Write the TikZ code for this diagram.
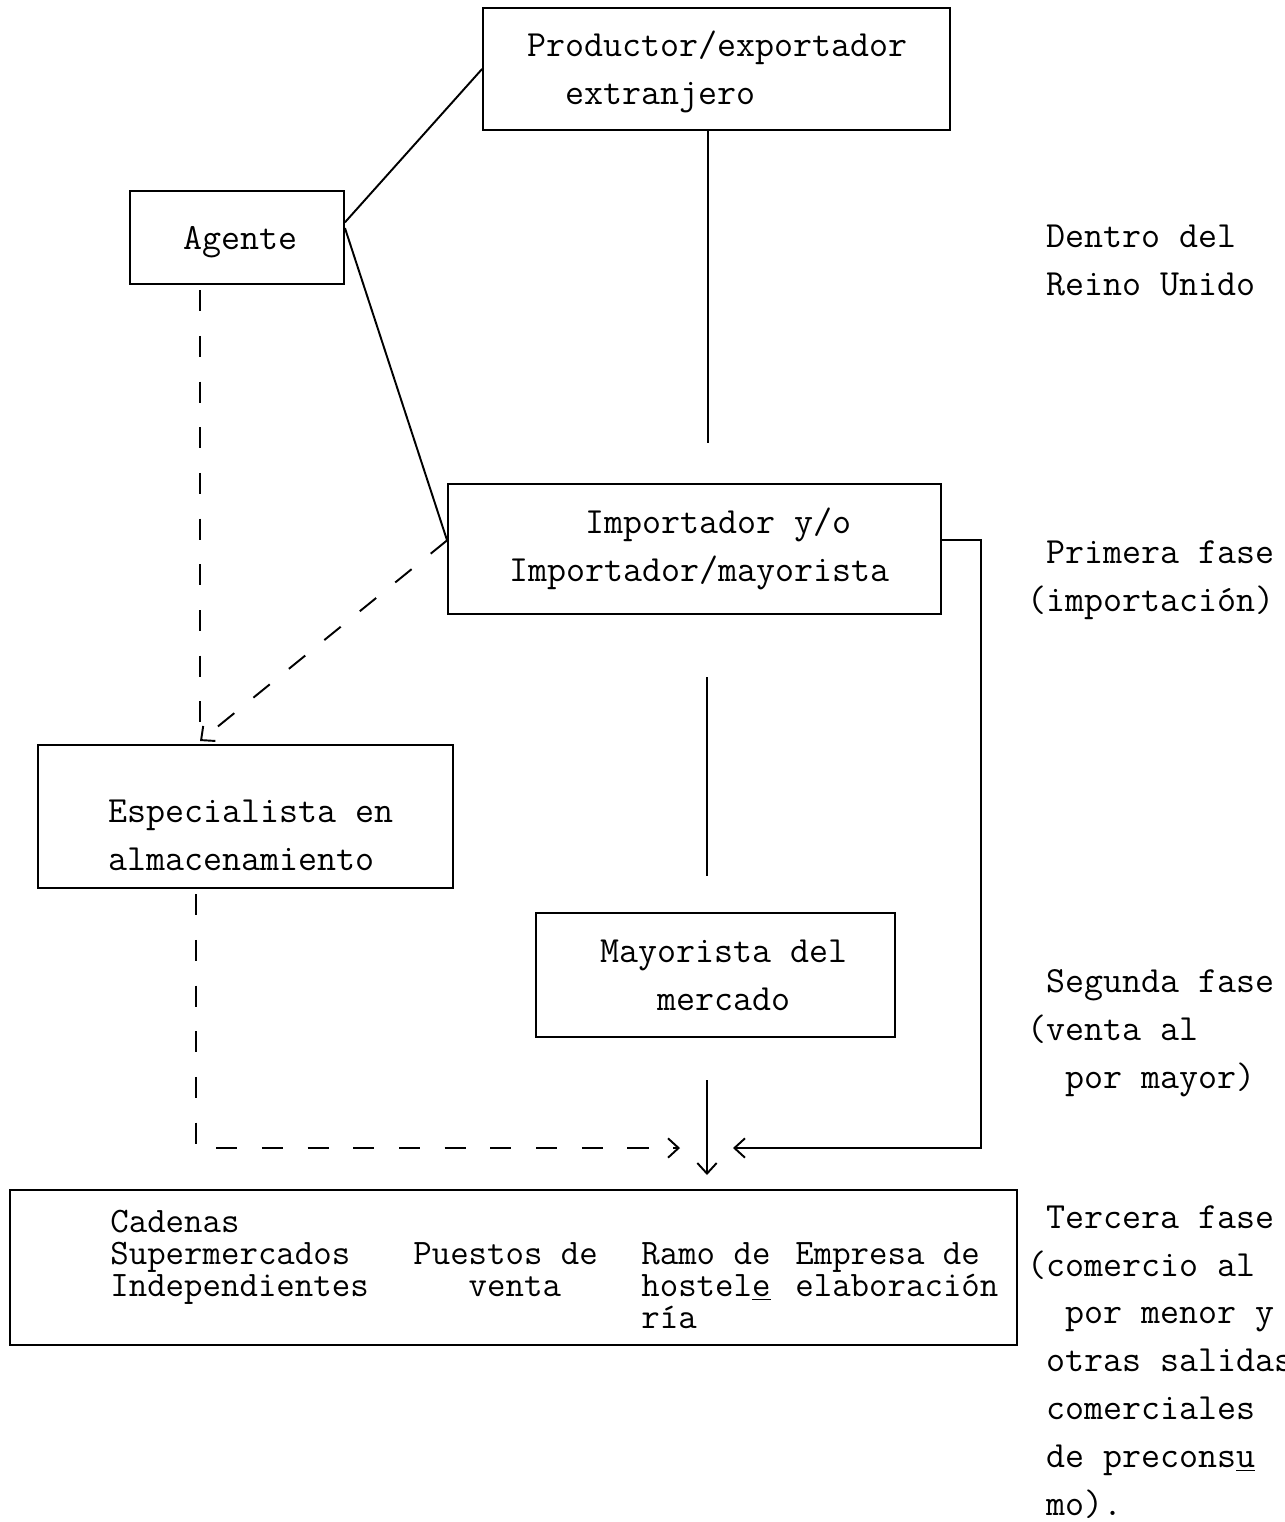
\documentclass[tikz,border=0pt]{standalone}
\usetikzlibrary{arrows.meta}

\begin{document}
\begin{tikzpicture}[x=0.02cm, y=-0.02cm,
    box/.style={draw, line width=1.1pt, inner sep=0pt},
    txt/.style={font=\ttfamily\fontsize{21}{27.2}\selectfont, align=left, anchor=base west, inner sep=0pt},
    small/.style={font=\ttfamily\fontsize{20.4}{18.1}\selectfont, align=left, anchor=base west, inner sep=0pt},
    link/.style={line width=1.1pt},
    dashlink/.style={line width=1.1pt, dash pattern=on 12pt off 14pt},
    tip/.style={-{Straight Barb[length=6pt,width=11pt]}}]
  \useasboundingbox (0,0) rectangle (1285,1522);

  % Boxes (centres)
  \node[box, minimum width=9.34cm, minimum height=2.44cm] (prod) at (716.5, 69) {};
  \node[box, minimum width=4.28cm, minimum height=1.86cm] (agente) at (237, 237.5) {};
  \node[box, minimum width=9.86cm, minimum height=2.6cm] (imp) at (694.5, 549) {};
  \node[box, minimum width=8.3cm, minimum height=2.86cm] (esp) at (245.5, 816.5) {};
  \node[box, minimum width=7.18cm, minimum height=2.48cm] (may) at (715.5, 975) {};
  \node[box, minimum width=20.14cm, minimum height=3.1cm] (canal) at (513.5, 1267.5) {};

  % Box texts (placed at the baseline of their last line)
  \node[txt] (prodtext) at (527, 104) {Productor/exportador\\\phantom{xx}extranjero};
  \node[txt] (agentetext) at (183, 249) {Agente};
  \node[txt] (imptext) at (509, 581) {\phantom{xxxx}Importador y/o\\Importador/mayorista};
  \node[txt] (esptext) at (108, 870) {Especialista en\\almacenamiento};
  \node[txt] (maytext) at (600, 1010) {Mayorista del\\\phantom{xxx}mercado};
  \node[small] (cadenas) at (110, 1296) {Cadenas\\Supermercados\\Independientes};
  \node[small] (puestos) at (413, 1296) {Puestos de\\\phantom{xxx}venta};
  \node[small] (ramo) at (641, 1328) {Ramo de\\hostel\underline{e}\\ría};
  \node[small] (empresa) at (795, 1296) {Empresa de\\elaboración};

  % Stage labels on the right
  \node[txt] (dentro) at (1046, 295) {Dentro del\\Reino Unido};
  \node[txt] (fase1) at (1027, 611) {\phantom{x}Primera fase\\(importación)};
  \node[txt] (fase2) at (1027, 1088) {\phantom{x}Segunda fase\\(venta al\\\phantom{xx}por mayor)};
  \node[txt] (fase3) at (1027, 1515) {\phantom{x}Tercera fase\\(comercio al\\\phantom{xx}por menor y\\\phantom{x}otras salidas\\\phantom{x}comerciales\\\phantom{x}de precons\underline{u}\\\phantom{x}mo).};

  % Free ends of the connectors
  \coordinate (c1) at (708, 443);
  \coordinate (c2) at (707, 677);
  \coordinate (c3) at (707, 876);
  \coordinate (c4) at (707, 1080);
  \coordinate (arr) at (200, 741);
  \coordinate (c7) at (196, 1148);
  \coordinate (c8) at (680, 1148);
  \coordinate (c9) at (981, 1148);
  \coordinate (c10) at (733, 1148);

  % Solid connectors
  \draw[link] (prod.west) -- (agente.8);
  \draw[link] (agente.5) -- (imp.178);
  \draw[link] (prod.south -| c1) -- (c1);
  \draw[link] (c2) -- (c3);
  \draw[link, tip, shorten >=8pt] (c4) -- (canal.north -| c4);
  \draw[link, tip] (imp.2) -| (c9) -- (c10);

  % Dashed connectors
  \draw[dashlink, shorten <=3pt] (agente.south -| arr) -- (arr);
  \draw[dashlink, tip] (imp.178) -- (arr);
  \draw[dashlink, tip, shorten <=3pt] (esp.south -| c7) -- (c7) -- (c8);

\end{tikzpicture}
\end{document}
